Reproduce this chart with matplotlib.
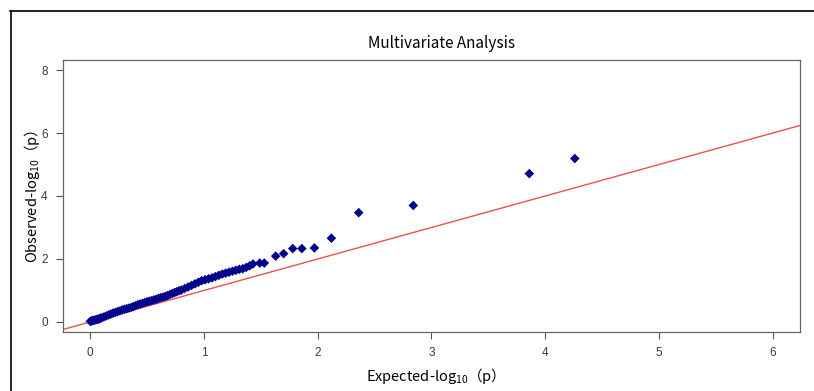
import matplotlib
matplotlib.use('Agg')
import matplotlib.pyplot as plt
from matplotlib.lines import Line2D

# ___data___
# dense part of the QQ curve (expected, observed -log10 p)
exp_dense = [0.00, 0.01, 0.02, 0.03, 0.04, 0.05, 0.06, 0.07, 0.08, 0.09,
             0.10, 0.12, 0.14, 0.16, 0.18, 0.20, 0.22, 0.24, 0.26, 0.28,
             0.30, 0.32, 0.34, 0.36, 0.38, 0.40, 0.42, 0.44, 0.46, 0.48,
             0.50, 0.52, 0.54, 0.56, 0.58, 0.60, 0.62, 0.64, 0.66, 0.68,
             0.70, 0.72, 0.74, 0.76, 0.78, 0.80, 0.83, 0.86, 0.89, 0.92,
             0.95, 0.98, 1.01, 1.04, 1.07, 1.10, 1.13, 1.16, 1.19, 1.22,
             1.25, 1.28, 1.31, 1.34, 1.37, 1.40, 1.43, 1.49, 1.53]
obs_dense = [0.02, 0.03, 0.04, 0.05, 0.06, 0.07, 0.08, 0.09, 0.10, 0.12,
             0.13, 0.16, 0.19, 0.22, 0.25, 0.28, 0.30, 0.33, 0.35, 0.38,
             0.40, 0.42, 0.44, 0.46, 0.49, 0.52, 0.55, 0.57, 0.59, 0.62,
             0.64, 0.66, 0.68, 0.70, 0.72, 0.75, 0.77, 0.79, 0.81, 0.84,
             0.87, 0.90, 0.93, 0.96, 0.99, 1.01, 1.06, 1.11, 1.16, 1.21,
             1.26, 1.31, 1.34, 1.37, 1.40, 1.44, 1.48, 1.52, 1.55, 1.58,
             1.61, 1.64, 1.67, 1.69, 1.73, 1.78, 1.84, 1.87, 1.87]
# sparse tail
exp_tail = [1.63, 1.70, 1.78, 1.86, 1.97, 2.12, 2.36, 2.84, 3.86, 4.26]
obs_tail = [2.09, 2.17, 2.33, 2.33, 2.35, 2.66, 3.47, 3.70, 4.71, 5.19]

expected = exp_dense + exp_tail
observed = obs_dense + obs_tail

x_ticks = [0, 1, 2, 3, 4, 5, 6]
y_ticks = [0, 2, 4, 6, 8]

cjk = ['Noto Sans CJK SC', 'DejaVu Sans']
plt.rcParams['mathtext.fontset'] = 'custom'
plt.rcParams['mathtext.rm'] = 'Noto Sans CJK SC'
plt.rcParams['mathtext.it'] = 'Noto Sans CJK SC'

fig = plt.figure(figsize=(8.14, 3.91), dpi=100)
ax = fig.add_axes([63 / 814, 1 - 332 / 391, 737 / 814, 272 / 391])

# y = x reference line
lo, hi = -0.26, 6.26
ax.plot([lo, hi], [lo, hi], color='#e8524f', lw=1, zorder=1)
ax.scatter(expected, observed, marker='D', s=24, color='#00008B',
           edgecolors='none', zorder=2)

ax.set_xlim(-0.24, 6.24)
ax.set_ylim(-0.32, 8.32)
ax.set_xticks(x_ticks)
ax.set_yticks(y_ticks)
ax.tick_params(direction='out', length=5, width=0.8, color='#555555',
               labelcolor='#3a3a3a', labelsize=8.5, pad=6)
for lab in ax.get_xticklabels() + ax.get_yticklabels():
    lab.set_family('Liberation Sans')
for sp in ax.spines.values():
    sp.set_color('#666666')
    sp.set_linewidth(0.9)

ax.set_title('Multivariate Analysis', fontsize=11, family=cjk, pad=9,
             x=0.513)
ax.set_xlabel('Expected-log$_{10}$（p）', fontsize=10.5, family=cjk, labelpad=5)
ax.set_ylabel('Observed-log$_{10}$（p）', fontsize=10.5, family=cjk, labelpad=-1)

# frame lines of the screenshot (top and left)
fig.add_artist(Line2D([10 / 814, 1], [1 - 11 / 391, 1 - 11 / 391],
                      transform=fig.transFigure, color='black', lw=1.2))
fig.add_artist(Line2D([11 / 814, 11 / 814], [0, 1 - 11 / 391],
                      transform=fig.transFigure, color='black', lw=1.2))

fig.savefig('out.png', dpi=100)
